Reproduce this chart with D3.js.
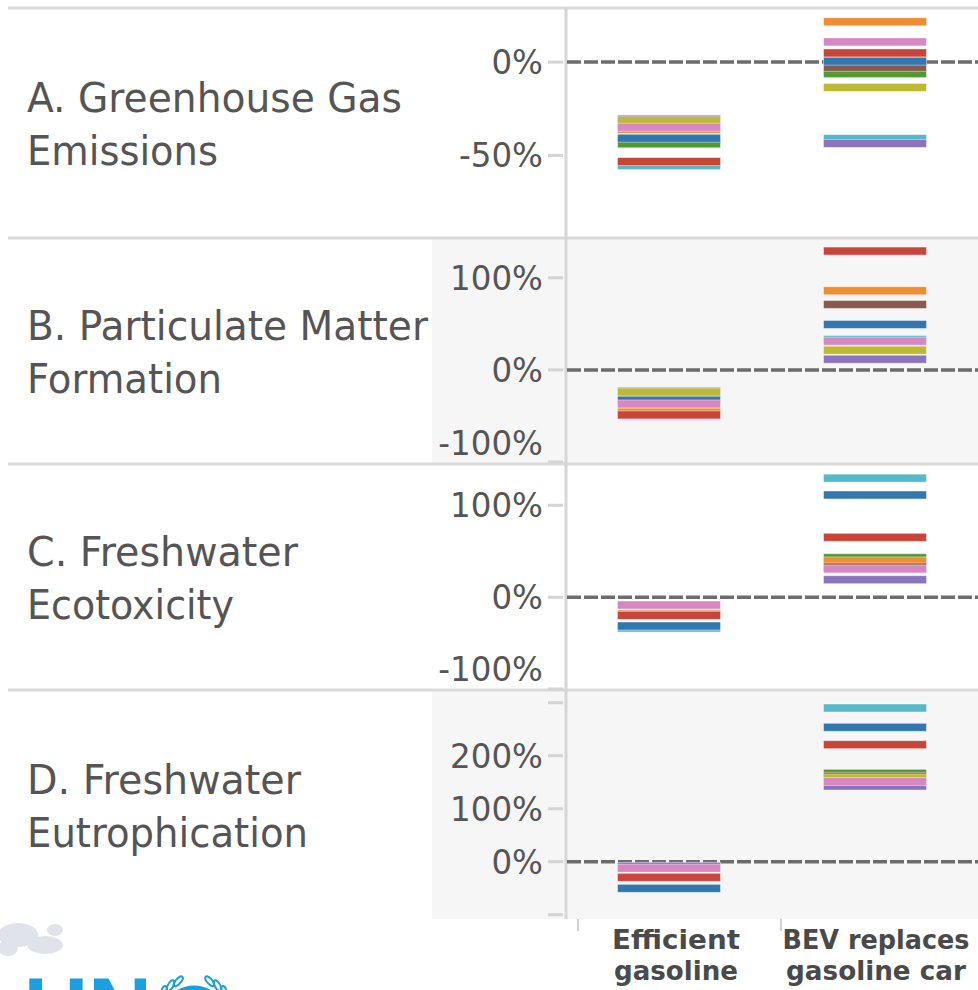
<!DOCTYPE html>
<html><head><meta charset="utf-8">
<script src="https://cdn.jsdelivr.net/npm/d3@7"></script>
<style>html,body{margin:0;padding:0;background:#fff;overflow:hidden}</style>
</head><body>
<svg id="c" width="978" height="990"></svg>
<script>
// ---------------- DATA ----------------
const panelTitles = [
  ["A. Greenhouse Gas", "Emissions"],
  ["B. Particulate Matter", "Formation"],
  ["C. Freshwater", "Ecotoxicity"],
  ["D. Freshwater", "Eutrophication"]
];
const categories = ["Efficient gasoline", "BEV replaces gasoline car"];
const categoryLabelLines = [["Efficient", "gasoline"], ["BEV replaces", "gasoline car"]];

// series in drawing order
const seriesKeys   = ["cyan", "purple", "green", "orange", "brown", "olive", "blue", "pink", "red"];
const seriesColors = ["#57b8ca", "#8b73bd", "#519a32", "#f28c33", "#8a5a4e", "#bfb833", "#3277b0", "#d787c2", "#c9453a"];

// values in % change (null = not shown)
const ghgEfficient = [-55.5, -30.6, -43.8, -36.0, null, -31.4, -40.8, -34.9, -53.3];
const ghgBEV       = [-41.0, -43.6, -6.2, 21.6, -2.8, -13.6, 0.5, 10.8, 4.9];
const pmEfficient  = [null, -23.2, null, -45.7, null, -24.2, -32.9, -37.0, -48.9];
const pmBEV        = [33.0, 11.6, null, 85.9, 71.0, 21.4, 49.3, 31.2, 129.0];
const fetEfficient = [-33.4, null, null, -18.2, null, null, -31.2, -8.4, -19.6];
const fetBEV       = [129.5, 19.1, 43.0, 39.5, 32.9, null, 111.2, 30.8, 65.2];
const feuEfficient = [null, -8.7, null, null, null, null, -50.2, -12.3, -29.4];
const feuBEV       = [290.0, 142.8, 166.8, null, 161.1, 157.9, 253.6, 151.3, 220.8];

const yDomains     = [[-93.2, 27.9], [-100, 141], [-98.6, 142.7], [-106.2, 320.2]];
const labeledTicks = [[0, -50], [100, 0, -100], [100, 0, -100], [200, 100, 0]];
const unlabeledTicks = [[], [], [], [300, -100]];

// ---------------- LAYOUT ----------------
const W = 978;
const svg = d3.select("#c");
const axisX = 566;
const paneTop = [10, 240, 466, 692];
const paneBottom = [236, 462, 688, 918];
const separatorsY = [8, 238, 464, 690];
const titleWidths = [[375, 191], [401, 195], [271, 207], [274, 281]];
const grayPanes = [false, true, false, true];
const panelData = [[ghgEfficient, ghgBEV], [pmEfficient, pmBEV], [fetEfficient, fetBEV], [feuEfficient, feuBEV]];
const FONT = "'DejaVu Sans', Verdana, sans-serif";

const xScale = d3.scaleBand().domain(categories).range([axisX, W]).paddingInner(0.5).paddingOuter(0.25);

// pane backgrounds
panelTitles.forEach((t, i) => {
  if (grayPanes[i]) {
    svg.append("rect").attr("x", 432).attr("y", paneTop[i] - 1)
      .attr("width", W - 432).attr("height", paneBottom[i] - paneTop[i] + 2)
      .attr("fill", "#f6f6f6");
  }
});

// separators
svg.selectAll("line.sep").data(separatorsY).enter().append("line")
  .attr("x1", 8).attr("x2", W).attr("y1", d => d).attr("y2", d => d)
  .attr("stroke", "#d9d9d9").attr("stroke-width", 3);

// vertical axis line
svg.append("line").attr("x1", axisX).attr("x2", axisX).attr("y1", 7).attr("y2", 919)
  .attr("stroke", "#d6d6d6").attr("stroke-width", 3);

// tick label condense factor
const probe = svg.append("text").attr("font-family", FONT).attr("font-size", 33).text("100%");
const probeW = probe.node().getComputedTextLength();
probe.remove();
const tickK = 93 / probeW;

panelTitles.forEach((lines, i) => {
  const top = paneTop[i], bot = paneBottom[i];
  const y = d3.scaleLinear().domain(yDomains[i]).range([bot, top]);
  const mid = (top + bot) / 2;

  // title
  lines.forEach((ln, j) => {
    svg.append("text").attr("x", 27).attr("y", j === 0 ? mid - 11 : mid + 42)
      .attr("font-family", FONT).attr("font-size", 41).attr("fill", "#555")
      .attr("textLength", titleWidths[i][j]).attr("lengthAdjust", "spacingAndGlyphs")
      .text(ln);
  });

  // axis
  const ax = d3.axisLeft(y).tickValues(labeledTicks[i].concat(unlabeledTicks[i]))
    .tickSize(15).tickPadding(5)
    .tickFormat(d => unlabeledTicks[i].includes(d) ? "" : d + "%");
  const g = svg.append("g").attr("transform", `translate(${axisX - 3},0)`).call(ax);
  g.select(".domain").remove();
  g.selectAll(".tick").attr("transform", d => `translate(0,${Math.max(top - 1, Math.min(bot + 1, y(d)))})`);
  g.selectAll(".tick line").attr("stroke", "#d4d4d4").attr("stroke-width", 3);
  g.selectAll(".tick text")
    .attr("font-family", FONT).attr("font-size", 33).attr("fill", "#555")
    .attr("dy", "0.36em")
    .each(function(d) {
      const el = d3.select(this);
      const py = Math.max(top - 1, Math.min(bot + 1, y(d)));
      if (py > bot - 19) el.attr("y", (bot - 19) - py);
      const w = this.getComputedTextLength();
      if (w > 0) el.attr("textLength", w * tickK).attr("lengthAdjust", "spacingAndGlyphs");
    });

  // zero line
  svg.append("line").attr("x1", axisX + 1).attr("x2", W).attr("y1", y(0)).attr("y2", y(0))
    .attr("stroke", "#6c6c6c").attr("stroke-width", 3.5).attr("stroke-dasharray", "14,3");

  // bars
  categories.forEach((cat, c) => {
    const vals = panelData[i][c];
    const rows = seriesKeys.map((k, s) => ({ k, v: vals[s], color: seriesColors[s] })).filter(r => r.v !== null);
    svg.append("g").selectAll("rect").data(rows).enter().append("rect")
      .attr("x", xScale(cat)).attr("width", xScale.bandwidth())
      .attr("y", r => y(r.v) - 4).attr("height", 8)
      .attr("fill", r => r.color)
      .attr("stroke", "rgba(255,255,255,0.55)").attr("stroke-width", 0.8);
  });
});

// column header dividers
[578, 781].forEach(x => {
  svg.append("line").attr("x1", x).attr("x2", x).attr("y1", 919).attr("y2", 931)
    .attr("stroke", "#d0d0d0").attr("stroke-width", 2);
});

// column labels (horizontally condensed via transform)
const headerWidths = [[128, 124], [187, 180]];
const headerCenters = [676, 876];
categoryLabelLines.forEach((lines, c) => {
  lines.forEach((ln, j) => {
    const t = svg.append("text")
      .attr("text-anchor", "middle")
      .attr("font-family", FONT).attr("font-weight", "bold").attr("font-size", 27).attr("fill", "#4a4a4a")
      .text(ln);
    const nat = t.node().getComputedTextLength();
    const k = headerWidths[c][j] / nat;
    t.attr("transform", `translate(${headerCenters[c]},${j === 0 ? 949 : 980}) scale(${k},1)`);
  });
});

// faint photo fragment (top-left of logo area)
const blob = svg.append("g").attr("opacity", 0.5);
[[18, 935, 20, 12], [45, 945, 18, 9], [8, 948, 10, 8], [55, 930, 8, 6]].forEach(e => {
  blob.append("ellipse").attr("cx", e[0]).attr("cy", e[1]).attr("rx", e[2]).attr("ry", e[3]).attr("fill", "#c3c8d6");
});

// UN logo (partially visible at the bottom edge, as in the reference)
const unBlue = "#1a9fe0";
svg.append("text").attr("x", 24).attr("y", 1045)
  .attr("font-family", "'Liberation Sans', Arial, sans-serif").attr("font-weight", "bold")
  .attr("font-size", 96).attr("fill", unBlue)
  .attr("textLength", 128).attr("lengthAdjust", "spacingAndGlyphs").text("UN");
const emb = svg.append("g");
emb.append("circle").attr("cx", 194).attr("cy", 1018).attr("r", 30)
  .attr("fill", "none").attr("stroke", unBlue).attr("stroke-width", 5);
const leafAngles = [-165, -152, -139, -126, -113, -67, -54, -41, -28, -15];
leafAngles.forEach(a => {
  const rad = a * Math.PI / 180;
  const cx = 194 + 40 * Math.cos(rad), cy = 1018 + 40 * Math.sin(rad);
  emb.append("ellipse").attr("cx", cx).attr("cy", cy).attr("rx", 6).attr("ry", 2.6)
    .attr("transform", `rotate(${a + 90 + (a < -90 ? -25 : 25)},${cx},${cy})`)
    .attr("fill", "none").attr("stroke", unBlue).attr("stroke-width", 2);
});
</script>
</body></html>
